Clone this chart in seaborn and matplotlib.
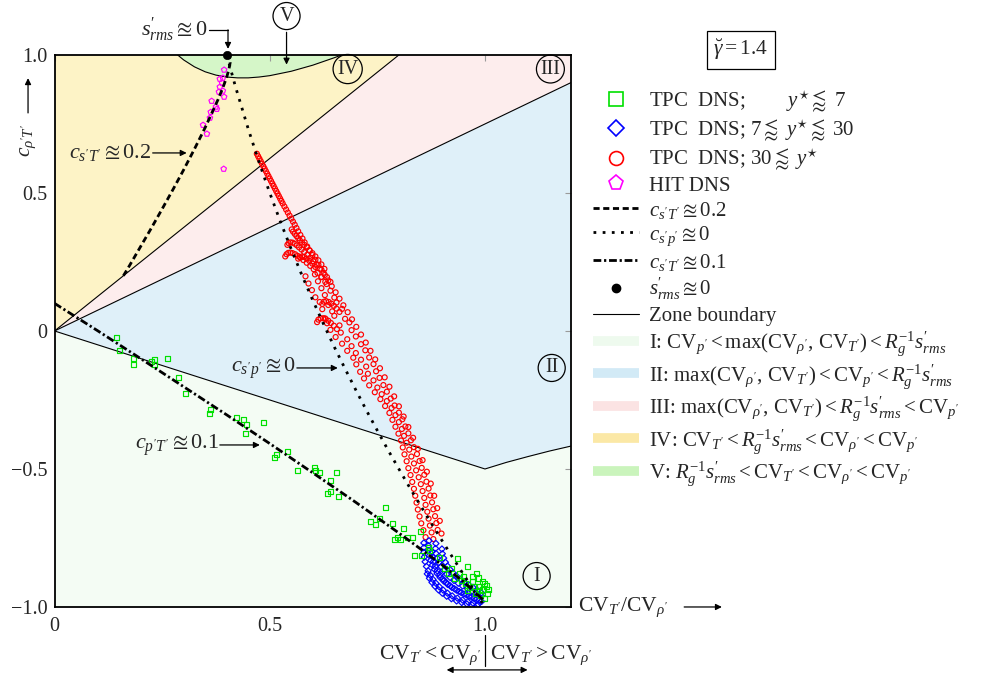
import numpy as np
import pandas as pd
import matplotlib
matplotlib.use("Agg")
import matplotlib.pyplot as plt
from matplotlib.lines import Line2D
import seaborn as sns

# ---------------------------------------------------------------- data
# TPC DNS, y* <~ 7 (green squares)
GREEN_PTS = [
    (0.143, -0.022), (0.152, -0.072), (0.184, -0.101), (0.184, -0.120), (0.226, -0.109),
    (0.233, -0.105), (0.233, -0.123), (0.262, -0.101), (0.288, -0.170), (0.305, -0.228),
    (0.363, -0.283), (0.359, -0.300), (0.423, -0.312), (0.440, -0.319), (0.447, -0.340),
    (0.444, -0.373), (0.486, -0.333), (0.516, -0.449), (0.512, -0.460), (0.542, -0.435),
    (0.565, -0.504), (0.605, -0.493), (0.607, -0.507), (0.616, -0.514), (0.655, -0.511),
    (0.641, -0.543), (0.641, -0.580), (0.633, -0.590), (0.660, -0.598), (0.735, -0.690),
    (0.745, -0.700), (0.755, -0.680), (0.769, -0.638), (0.785, -0.699), (0.811, -0.717),
    (0.790, -0.754), (0.797, -0.750), (0.804, -0.757), (0.820, -0.750), (0.832, -0.750),
    (0.850, -0.725), (0.836, -0.812), (0.852, -0.812), (0.869, -0.783), (0.871, -0.795),
    (0.894, -0.822), (0.922, -0.859), (0.941, -0.877), (0.936, -0.826), (0.959, -0.855),
    (0.980, -0.880), (0.971, -0.906), (0.994, -0.906), (1.003, -0.924), (0.987, -0.942),
    (0.965, -0.930), (0.990, -0.960), (1.005, -0.950), (0.975, -0.925), (0.955, -0.915),
    (0.985, -0.925), (0.995, -0.935), (1.008, -0.935), (0.945, -0.905), (0.930, -0.895),
    (0.915, -0.880), (0.905, -0.860), (0.960, -0.940), (0.978, -0.950), (0.998, -0.970),
    (1.000, -0.915), (0.970, -0.890), (0.950, -0.890), (0.985, -0.895),
]

# TPC DNS, 7 <~ y* <~ 30 (blue diamonds)
BLUE_PTS = [
    (0.858, -0.768), (0.858, -0.785), (0.858, -0.802), (0.859, -0.819), (0.861, -0.836),
    (0.864, -0.853), (0.868, -0.869), (0.873, -0.885), (0.879, -0.900), (0.886, -0.914),
    (0.894, -0.927), (0.903, -0.939), (0.913, -0.950), (0.924, -0.960), (0.936, -0.968),
    (0.948, -0.975), (0.960, -0.981), (0.972, -0.986), (0.984, -0.990),
    (0.870, -0.760), (0.869, -0.778), (0.869, -0.796), (0.871, -0.814), (0.874, -0.831),
    (0.878, -0.848), (0.883, -0.864), (0.889, -0.879), (0.896, -0.893), (0.904, -0.906),
    (0.913, -0.918), (0.923, -0.929), (0.934, -0.939), (0.945, -0.948), (0.957, -0.956),
    (0.969, -0.964), (0.981, -0.972), (0.992, -0.980),
    (0.886, -0.770), (0.885, -0.788), (0.886, -0.806), (0.889, -0.823), (0.893, -0.839),
    (0.898, -0.854), (0.904, -0.868), (0.911, -0.881), (0.919, -0.893), (0.928, -0.904),
    (0.938, -0.914), (0.948, -0.924), (0.959, -0.933), (0.970, -0.942), (0.981, -0.951),
    (0.992, -0.960),
    (0.900, -0.790), (0.901, -0.807), (0.904, -0.823), (0.908, -0.838), (0.913, -0.852),
    (0.919, -0.865), (0.926, -0.877), (0.934, -0.888), (0.943, -0.899), (0.952, -0.909),
    (0.962, -0.919), (0.972, -0.929), (0.982, -0.939), (0.992, -0.949),
    (0.877, -0.800), (0.878, -0.818), (0.880, -0.836), (0.884, -0.853), (0.889, -0.869),
    (0.895, -0.884), (0.902, -0.898), (0.910, -0.911), (0.919, -0.923), (0.929, -0.934),
    (0.940, -0.944), (0.951, -0.953), (0.963, -0.961), (0.975, -0.969), (0.987, -0.976),
    (0.866, -0.880), (0.871, -0.896), (0.877, -0.911), (0.884, -0.925), (0.892, -0.938),
    (0.901, -0.950), (0.911, -0.961), (0.922, -0.970), (0.934, -0.978), (0.946, -0.984),
    (0.958, -0.989), (0.970, -0.993), (0.982, -0.996),
]

# TPC DNS, 30 <~ y* (red circles)
RED_PTS = [
    # outer trail
    (0.470, 0.642), (0.473, 0.633), (0.476, 0.624), (0.479, 0.615), (0.482, 0.606),
    (0.485, 0.597), (0.488, 0.588), (0.491, 0.579), (0.494, 0.570), (0.497, 0.561),
    (0.500, 0.552), (0.503, 0.543), (0.506, 0.534), (0.509, 0.525), (0.512, 0.516),
    (0.515, 0.507), (0.518, 0.498), (0.521, 0.489), (0.524, 0.480), (0.527, 0.471),
    (0.530, 0.462), (0.534, 0.451), (0.538, 0.440), (0.542, 0.429), (0.546, 0.418),
    (0.550, 0.407), (0.554, 0.396), (0.558, 0.385), (0.562, 0.373), (0.566, 0.361),
    (0.571, 0.348), (0.576, 0.335), (0.581, 0.321), (0.587, 0.306), (0.593, 0.291),
    (0.599, 0.275), (0.606, 0.258), (0.613, 0.240), (0.620, 0.222), (0.628, 0.203),
    (0.636, 0.183), (0.644, 0.162), (0.653, 0.140), (0.662, 0.117), (0.671, 0.093),
    (0.681, 0.068), (0.691, 0.042), (0.701, 0.015), (0.712, -0.013), (0.723, -0.042),
    (0.734, -0.072), (0.745, -0.103), (0.756, -0.135), (0.767, -0.168), (0.778, -0.202),
    (0.789, -0.237), (0.800, -0.273), (0.811, -0.310), (0.822, -0.348), (0.833, -0.387),
    (0.844, -0.427), (0.855, -0.468), (0.865, -0.510), (0.874, -0.553), (0.882, -0.597),
    (0.889, -0.642), (0.895, -0.688), (0.899, -0.734),
    # hooks
    (0.551, 0.368), (0.554, 0.360), (0.558, 0.352), (0.562, 0.344), (0.566, 0.336),
    (0.570, 0.328), (0.575, 0.320), (0.580, 0.312), (0.586, 0.303), (0.592, 0.293),
    (0.599, 0.282), (0.606, 0.270), (0.613, 0.256), (0.620, 0.241), (0.627, 0.225),
    (0.541, 0.312), (0.544, 0.318), (0.548, 0.321), (0.553, 0.320), (0.558, 0.316),
    (0.563, 0.310), (0.568, 0.303), (0.574, 0.295), (0.580, 0.286), (0.587, 0.276),
    (0.594, 0.265), (0.601, 0.253), (0.609, 0.240), (0.617, 0.226), (0.625, 0.211),
    (0.633, 0.195), (0.641, 0.178),
    (0.536, 0.270), (0.539, 0.278), (0.543, 0.283), (0.548, 0.284), (0.553, 0.282),
    (0.559, 0.278), (0.565, 0.272), (0.571, 0.265), (0.578, 0.257), (0.586, 0.247),
    (0.594, 0.236), (0.602, 0.224), (0.611, 0.210), (0.620, 0.195), (0.629, 0.178),
    (0.566, 0.262), (0.570, 0.268), (0.575, 0.270), (0.580, 0.268), (0.586, 0.262),
    (0.592, 0.254), (0.599, 0.244), (0.606, 0.232),
    (0.622, 0.098), (0.626, 0.106), (0.631, 0.108), (0.637, 0.105), (0.643, 0.099),
    (0.649, 0.091), (0.655, 0.081), (0.662, 0.069),
    (0.610, 0.032), (0.613, 0.041), (0.618, 0.046), (0.624, 0.046), (0.630, 0.043),
    (0.636, 0.037), (0.642, 0.029), (0.649, 0.019), (0.656, 0.007),
    # inner band
    (0.583, 0.198), (0.605, 0.205), (0.620, 0.196), (0.590, 0.172), (0.612, 0.180),
    (0.632, 0.170), (0.598, 0.148), (0.620, 0.155), (0.641, 0.146), (0.606, 0.122),
    (0.628, 0.130), (0.650, 0.121), (0.616, 0.105), (0.636, 0.094), (0.655, 0.103),
    (0.622, 0.079), (0.645, 0.071), (0.668, 0.080), (0.628, 0.046), (0.650, 0.055),
    (0.675, 0.044), (0.633, 0.028), (0.662, 0.020), (0.685, 0.031), (0.641, 0.004),
    (0.665, -0.006), (0.690, 0.003), (0.653, -0.022), (0.680, -0.030), (0.700, -0.020),
    (0.668, -0.046), (0.690, -0.055), (0.712, -0.048), (0.680, -0.072), (0.700, -0.080),
    (0.722, -0.070), (0.694, -0.097), (0.712, -0.104), (0.731, -0.096), (0.701, -0.121),
    (0.724, -0.129), (0.741, -0.120), (0.710, -0.148), (0.728, -0.155), (0.747, -0.146),
    (0.719, -0.172), (0.741, -0.179), (0.755, -0.170), (0.731, -0.197), (0.750, -0.205),
    (0.764, -0.196), (0.744, -0.222), (0.760, -0.229), (0.772, -0.220), (0.757, -0.247),
    (0.772, -0.254), (0.781, -0.245), (0.768, -0.272), (0.783, -0.279), (0.790, -0.270),
    (0.778, -0.297), (0.792, -0.305), (0.800, -0.296), (0.785, -0.322), (0.800, -0.330),
    (0.808, -0.320), (0.792, -0.347), (0.807, -0.355), (0.815, -0.346), (0.799, -0.372),
    (0.812, -0.380), (0.822, -0.371), (0.805, -0.397), (0.818, -0.405), (0.828, -0.396),
    (0.809, -0.422), (0.824, -0.430), (0.835, -0.421), (0.813, -0.447), (0.829, -0.455),
    (0.842, -0.446), (0.818, -0.472), (0.835, -0.480), (0.848, -0.471), (0.822, -0.497),
    (0.840, -0.505), (0.853, -0.496), (0.827, -0.522), (0.846, -0.530), (0.859, -0.521),
    (0.831, -0.547), (0.851, -0.555), (0.864, -0.546), (0.835, -0.572), (0.855, -0.580),
    (0.869, -0.571), (0.838, -0.597), (0.859, -0.605), (0.873, -0.596), (0.841, -0.622),
    (0.862, -0.630), (0.877, -0.621), (0.844, -0.647), (0.866, -0.655), (0.880, -0.646),
    (0.848, -0.672), (0.869, -0.680), (0.884, -0.671), (0.852, -0.697), (0.872, -0.705),
    (0.887, -0.696), (0.857, -0.722), (0.876, -0.730), (0.890, -0.721), (0.862, -0.747),
    (0.880, -0.754),
]

# HIT DNS (magenta pentagons)
HIT_PTS = [
    (0.394, 0.946), (0.391, 0.917), (0.384, 0.913), (0.389, 0.899), (0.384, 0.884),
    (0.391, 0.870), (0.382, 0.866), (0.394, 0.848), (0.365, 0.833), (0.375, 0.812),
    (0.377, 0.804), (0.363, 0.793), (0.361, 0.772), (0.345, 0.746), (0.354, 0.714),
    (0.393, 0.587),
]

# s'_rms ~ 0 point
SRMS_ZERO = [(0.400, 1.000)]

# iso-correlation curves
CURVE_CST_02 = [
    (0.160, 0.200), (0.175, 0.239), (0.200, 0.306), (0.225, 0.373), (0.250, 0.442),
    (0.275, 0.512), (0.300, 0.584), (0.325, 0.659), (0.350, 0.737), (0.380, 0.839),
    (0.390, 0.877), (0.395, 0.898), (0.400, 0.920), (0.405, 0.947), (0.408, 0.972),
    (0.405, 0.997), (0.400, 1.000),
]
CURVE_CSP_0 = [
    (0.400, 1.000), (0.420, 0.887), (0.450, 0.732), (0.475, 0.612), (0.500, 0.500),
    (0.525, 0.395), (0.550, 0.296), (0.575, 0.201), (0.600, 0.111), (0.625, 0.025),
    (0.650, -0.058), (0.675, -0.137), (0.700, -0.214), (0.725, -0.289), (0.750, -0.361),
    (0.775, -0.432), (0.800, -0.500), (0.825, -0.567), (0.850, -0.632), (0.875, -0.696),
    (0.900, -0.759), (0.925, -0.821), (0.950, -0.882), (0.975, -0.941), (1.000, -1.000),
]
CURVE_CPT_01 = [
    (0.000, 0.100), (0.100, 0.001), (0.200, -0.100), (0.300, -0.202), (0.400, -0.304),
    (0.500, -0.408), (0.600, -0.514), (0.700, -0.621), (0.800, -0.732), (0.900, -0.847),
    (0.950, -0.908), (1.000, -0.980),
]

# zone boundaries
BND_I_II = [(0.0, 0.0), (1.0, -0.5), (1.05, -0.476), (1.1, -0.455), (1.15, -0.435), (1.2, -0.417)]
BND_II_III = [(0.0, 0.0), (1.2, 0.9)]
BND_III_IV = [(0.0, 0.0), (0.8, 1.0)]
BND_V = [
    (0.286, 1.000), (0.300, 0.982), (0.325, 0.957), (0.350, 0.939), (0.375, 0.927),
    (0.400, 0.920), (0.425, 0.917), (0.450, 0.917), (0.475, 0.920), (0.500, 0.925),
    (0.550, 0.941), (0.600, 0.963), (0.650, 0.990), (0.667, 1.000),
]

ZONE_FILL = {"I": "#f4fcf4", "II": "#dff0f9", "III": "#fdeded", "IV": "#fdf3c6", "V": "#d5f6c8"}
ZONE_SWATCH = {"I": "#eefaee", "II": "#d2eaf6", "III": "#fbe3e3", "IV": "#fbe8a6", "V": "#caf4bc"}

S_RMS = r"s_{rms}^{\prime}"
ZONE_LABELS = [
    r"I: $\mathrm{CV}_{p'} < \max(\mathrm{CV}_{\rho'},\,\mathrm{CV}_{T'}) < R_g^{-1}" + S_RMS + "$",
    r"II: $\max(\mathrm{CV}_{\rho'},\,\mathrm{CV}_{T'}) < \mathrm{CV}_{p'} < R_g^{-1}" + S_RMS + "$",
    r"III: $\max(\mathrm{CV}_{\rho'},\,\mathrm{CV}_{T'}) < R_g^{-1}" + S_RMS + r" < \mathrm{CV}_{p'}$",
    r"IV: $\mathrm{CV}_{T'} < R_g^{-1}" + S_RMS + r" < \mathrm{CV}_{\rho'} < \mathrm{CV}_{p'}$",
    r"V: $R_g^{-1}" + S_RMS + r" < \mathrm{CV}_{T'} < \mathrm{CV}_{\rho'} < \mathrm{CV}_{p'}$",
]

X_TICKS = [0.0, 0.5, 1.0]
X_TICKLABELS = ["0", "0.5", "1.0"]
Y_TICKS = [-1.0, -0.5, 0.0, 0.5, 1.0]
Y_TICKLABELS = ["\u22121.0", "\u22120.5", "0", "0.5", "1.0"]

# ---------------------------------------------------------------- style
sns.set_style("white")
plt.rcParams["font.family"] = ["Liberation Serif", "DejaVu Serif"]
plt.rcParams["mathtext.fontset"] = "custom"
plt.rcParams["mathtext.rm"] = "Liberation Serif"
plt.rcParams["mathtext.it"] = "Liberation Serif:italic"
plt.rcParams["mathtext.bf"] = "Liberation Serif:bold"
plt.rcParams["mathtext.fallback"] = "stix"
plt.rcParams["font.size"] = 14


def frame(pts):
    a = np.asarray(pts, dtype=float)
    return pd.DataFrame({"x": a[:, 0], "y": a[:, 1]})


fig = plt.figure(figsize=(9.88, 6.76), dpi=100)
ax = fig.add_axes([0.0552, 0.1021, 0.5228, 0.8166])
ax.set_xlim(0, 1.2)
ax.set_ylim(-1, 1)

# zones
b12 = np.asarray(BND_I_II)
ax.fill(np.r_[b12[:, 0], 1.2, 0.0], np.r_[b12[:, 1], -1.0, -1.0], color=ZONE_FILL["I"], lw=0, zorder=0)
ax.fill(np.r_[0.0, 1.2, b12[::-1, 0]], np.r_[0.0, 0.9, b12[::-1, 1]], color=ZONE_FILL["II"], lw=0, zorder=0)
ax.fill([0.0, 0.8, 1.2, 1.2], [0.0, 1.0, 1.0, 0.9], color=ZONE_FILL["III"], lw=0, zorder=0)
ax.fill([0.0, 0.0, 0.8], [0.0, 1.0, 1.0], color=ZONE_FILL["IV"], lw=0, zorder=0)
bv = np.asarray(BND_V)
ax.fill(bv[:, 0], bv[:, 1], color=ZONE_FILL["V"], lw=0, zorder=0)

for bnd in (BND_I_II, BND_II_III, BND_III_IV, BND_V):
    sns.lineplot(data=frame(bnd), x="x", y="y", sort=False, estimator=None, ax=ax,
                 color="black", lw=0.8, zorder=1)

# data
sns.scatterplot(data=frame(RED_PTS), x="x", y="y", ax=ax, marker="o", s=13,
                facecolor="none", edgecolor="#ff0000", linewidth=0.85, zorder=3)
sns.scatterplot(data=frame(BLUE_PTS), x="x", y="y", ax=ax, marker="D", s=10,
                facecolor="none", edgecolor="#0000ff", linewidth=0.85, zorder=3)
sns.scatterplot(data=frame(GREEN_PTS), x="x", y="y", ax=ax, marker="s", s=13,
                facecolor="none", edgecolor="#00e000", linewidth=0.85, zorder=3)
sns.scatterplot(data=frame(HIT_PTS), x="x", y="y", ax=ax, marker="p", s=17,
                facecolor="none", edgecolor="#ff00ff", linewidth=0.85, zorder=3)

# iso-correlation curves
DASHED = (0, (2.2, 1.3))
DOTTED = (0, (1.0, 2.3))
DASHDOT = (0, (2.8, 1.0, 0.8, 1.0))
sns.lineplot(data=frame(CURVE_CST_02), x="x", y="y", sort=False, estimator=None, ax=ax,
             color="black", lw=2.0, linestyle=DASHED, zorder=5)
sns.lineplot(data=frame(CURVE_CSP_0), x="x", y="y", sort=False, estimator=None, ax=ax,
             color="black", lw=2.0, linestyle=DOTTED, zorder=5)
sns.lineplot(data=frame(CURVE_CPT_01), x="x", y="y", sort=False, estimator=None, ax=ax,
             color="black", lw=2.0, linestyle=DASHDOT, zorder=5)
sns.scatterplot(data=frame(SRMS_ZERO), x="x", y="y", ax=ax, marker="o", s=36,
                color="black", edgecolor="black", zorder=6, clip_on=False)

# axes cosmetics
ax.set_xticks(X_TICKS, X_TICKLABELS)
ax.set_yticks(Y_TICKS, Y_TICKLABELS)
ax.set_xlabel("")
ax.set_ylabel("")
ax.tick_params(direction="in", length=4, color="#9a9a9a", top=True, right=True,
               labelsize=14.5, width=0.8)
ax.tick_params(axis="x", pad=7)
ax.tick_params(axis="y", pad=5)
for sp in ax.spines.values():
    sp.set_color("black")
    sp.set_linewidth(1.3)
    sp.set_zorder(7)

arrow = dict(arrowstyle="-|>", color="black", lw=0.9, mutation_scale=9, shrinkA=0, shrinkB=0)

# roman-numeral zone tags
circ = dict(boxstyle="circle,pad=0.2", fc="none", ec="black", lw=0.9)
for txt, x, y in [("I", 1.12, -0.888), ("II", 1.155, -0.134), ("III", 1.152, 0.949),
                  ("IV", 0.681, 0.949)]:
    ax.text(x, y, txt, ha="center", va="center", fontsize=14.5, bbox=circ, zorder=8)
ax.text(0.539, 1.141, "V", ha="center", va="center", fontsize=14.5, bbox=circ, clip_on=False)
ax.annotate("", xy=(0.539, 0.965), xytext=(0.539, 1.082), arrowprops=arrow,
            annotation_clip=False)

# s'_rms ~ 0 callout
ax.text(0.355, 1.091, "$" + S_RMS + r"\approxeq 0$", ha="right", va="center", fontsize=16)
ax.plot([0.36, 0.403], [1.091, 1.091], color="black", lw=0.9, clip_on=False)
ax.annotate("", xy=(0.403, 1.022), xytext=(0.403, 1.091), arrowprops=arrow,
            annotation_clip=False)

# curve callouts
ax.text(0.225, 0.645, r"$c_{s'T'}\approxeq 0.2$", ha="right", va="center", fontsize=16, zorder=8)
ax.annotate("", xy=(0.307, 0.645), xytext=(0.228, 0.645), arrowprops=arrow, zorder=8)
ax.text(0.560, -0.134, r"$c_{s'p'}\approxeq 0$", ha="right", va="center", fontsize=16, zorder=8)
ax.annotate("", xy=(0.658, -0.134), xytext=(0.563, -0.134), arrowprops=arrow, zorder=8)
ax.text(0.381, -0.413, r"$c_{p'T'}\approxeq 0.1$", ha="right", va="center", fontsize=16, zorder=8)
ax.annotate("", xy=(0.477, -0.413), xytext=(0.384, -0.413), arrowprops=arrow, zorder=8)

# axis labels with arrows
ax.text(1.013, 0.0, r"$\mathrm{CV}_{T'}/\mathrm{CV}_{\rho'}$", transform=ax.transAxes,
        ha="left", va="center", fontsize=15.5)
ax.annotate("", xy=(1.292, 0.0), xytext=(1.219, 0.0), xycoords="axes fraction",
            textcoords="axes fraction", arrowprops=arrow, annotation_clip=False)
ax.text(-0.0513, 0.846, r"$c_{\rho'T'}$", transform=ax.transAxes, rotation=90,
        ha="center", va="center", fontsize=15.5)
ax.annotate("", xy=(-0.0513, 0.958), xytext=(-0.0513, 0.895), xycoords="axes fraction",
            textcoords="axes fraction", arrowprops=arrow, annotation_clip=False)

# CV_T' vs CV_rho' split marker below the x axis
ax.text(0.992, -1.174, r"$\mathrm{CV}_{T'} < \mathrm{CV}_{\rho'}$", ha="right", va="center",
        fontsize=15.5)
ax.text(1.012, -1.174, r"$\mathrm{CV}_{T'} > \mathrm{CV}_{\rho'}$", ha="left", va="center",
        fontsize=15.5)
ax.plot([1.0, 1.0], [-1.101, -1.214], color="black", lw=0.9, clip_on=False)
ax.annotate("", xy=(0.911, -1.228), xytext=(1.099, -1.228),
            arrowprops=dict(arrowstyle="<|-|>", color="black", lw=0.9, mutation_scale=9,
                            shrinkA=0, shrinkB=0), annotation_clip=False)

# gamma box
fig.text(741 / 988, 1 - 50 / 676, r"$\breve{\gamma} = 1.4$", ha="center", va="center",
         fontsize=15.5, bbox=dict(boxstyle="square,pad=0.3", fc="white", ec="black", lw=0.9))

# legend
handles = [
    Line2D([], [], ls="none", marker="s", mfc="none", mec="#00e000", ms=10, mew=1.2),
    Line2D([], [], ls="none", marker="D", mfc="none", mec="#0000ff", ms=8.5, mew=1.2),
    Line2D([], [], ls="none", marker="o", mfc="none", mec="#ff0000", ms=10, mew=1.2),
    Line2D([], [], ls="none", marker="p", mfc="none", mec="#ff00ff", ms=11, mew=1.2),
    Line2D([], [], color="black", lw=2.0, ls=DASHED),
    Line2D([], [], color="black", lw=2.0, ls=DOTTED),
    Line2D([], [], color="black", lw=2.0, ls=DASHDOT),
    Line2D([], [], ls="none", marker="o", color="black", ms=6),
    Line2D([], [], color="black", lw=0.8),
] + [Line2D([], [], color=ZONE_SWATCH[k], lw=7, solid_capstyle="butt")
     for k in ("I", "II", "III", "IV", "V")]
labels = [
    r"TPC  DNS;$\qquad\;\;\; y^{\star}\lessapprox\ 7$",
    r"TPC  DNS; $7\lessapprox\ y^{\star}\lessapprox\ 30$",
    r"TPC  DNS; $30\lessapprox\ y^{\star}$",
    "HIT DNS",
    r"$c_{s'T'}\approxeq 0.2$",
    r"$c_{s'p'}\approxeq 0$",
    r"$c_{s'T'}\approxeq 0.1$",
    "$" + S_RMS + r"\approxeq 0$",
    "Zone boundary",
] + ZONE_LABELS
fig.legend(handles, labels, loc="upper left", bbox_to_anchor=(593 / 988, 1 - 89 / 676),
           frameon=False, fontsize=15, handlelength=2.2, handletextpad=0.5,
           labelspacing=0.18, borderpad=0, borderaxespad=0)

fig.savefig("out.png", dpi=100)
